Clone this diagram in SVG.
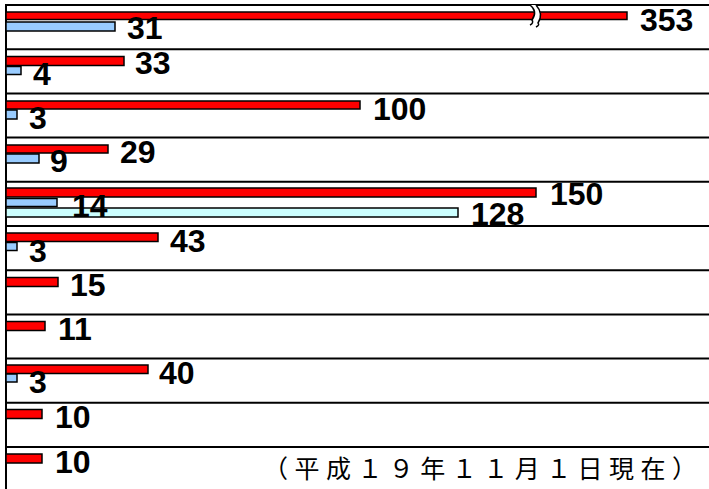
<svg xmlns="http://www.w3.org/2000/svg" width="709" height="489" viewBox="0 0 709 489">
<style>
.grid{stroke:#000;stroke-width:2;fill:none}
.r{fill:#FF0000;stroke:#000;stroke-width:1.5}
.b{fill:#99CCFF;stroke:#000;stroke-width:1.5}
.c{fill:#CCFFFF;stroke:#000;stroke-width:1.5}
.v{font-family:"Liberation Sans",Arial,sans-serif;font-size:32px;font-weight:bold;fill:#000}
.note{font-family:"Noto Sans CJK JP","Noto Sans CJK SC",sans-serif;font-size:25px;fill:#000}
</style>
<rect width="709" height="489" fill="#fff"/>
<g id="gridlines">
<line class="grid" x1="6" y1="5" x2="709" y2="5"/>
<line class="grid" x1="6" y1="49.2" x2="709" y2="49.2"/>
<line class="grid" x1="6" y1="93.4" x2="709" y2="93.4"/>
<line class="grid" x1="6" y1="137.6" x2="709" y2="137.6"/>
<line class="grid" x1="6" y1="181.8" x2="709" y2="181.8"/>
<line class="grid" x1="6" y1="226" x2="709" y2="226"/>
<line class="grid" x1="6" y1="270.2" x2="709" y2="270.2"/>
<line class="grid" x1="6" y1="314.4" x2="709" y2="314.4"/>
<line class="grid" x1="6" y1="358.6" x2="709" y2="358.6"/>
<line class="grid" x1="6" y1="402.8" x2="709" y2="402.8"/>
<line class="grid" x1="6" y1="447" x2="709" y2="447"/>
<line class="grid" x1="6" y1="4" x2="6" y2="489"/>
</g>
<g id="row1">
<rect class="r" x="6" y="12" width="621" height="7.5"/>
<path d="M530,5 Q538,11 532,20 L538,23 Q544,14 536,5 Z" fill="#fff"/>
<path d="M530,5 Q538,11 532,20 Q534,23 530,25 M536,5 Q544,14 538,23 Q540,25 536,27" fill="none" stroke="#000" stroke-width="1.5"/>
<rect class="b" x="6" y="22" width="109" height="9"/>
<text class="v" x="640" y="31">353</text>
<text class="v" x="127" y="39">31</text>
</g>
<g id="row2">
<rect class="r" x="6" y="56.5" width="118" height="9"/>
<rect class="b" x="6" y="66.5" width="15" height="8"/>
<text class="v" x="135" y="74">33</text>
<text class="v" x="33" y="85">4</text>
</g>
<g id="row3">
<rect class="r" x="6" y="101" width="354" height="8"/>
<rect class="b" x="6" y="110" width="11" height="9"/>
<text class="v" x="373" y="120">100</text>
<text class="v" x="29" y="129">3</text>
</g>
<g id="row4">
<rect class="r" x="6" y="145" width="102" height="8"/>
<rect class="b" x="6" y="154" width="33" height="9"/>
<text class="v" x="120" y="163">29</text>
<text class="v" x="50" y="172">9</text>
</g>
<g id="row5">
<rect class="r" x="6" y="188" width="530" height="9"/>
<rect class="b" x="6" y="198.5" width="51" height="8"/>
<rect class="c" x="6" y="208" width="452" height="9"/>
<text class="v" x="550" y="205">150</text>
<text class="v" x="72" y="217">14</text>
<text class="v" x="471" y="225">128</text>
</g>
<g id="row6">
<rect class="r" x="6" y="233" width="152" height="8.5"/>
<rect class="b" x="6" y="242.5" width="11" height="8"/>
<text class="v" x="170" y="252">43</text>
<text class="v" x="29" y="262">3</text>
</g>
<g id="row7">
<rect class="r" x="6" y="277.5" width="52" height="9"/>
<text class="v" x="70" y="296">15</text>
</g>
<g id="row8">
<rect class="r" x="6" y="321.5" width="39" height="9"/>
<text class="v" x="58" y="340">11</text>
</g>
<g id="row9">
<rect class="r" x="6" y="365" width="142" height="8.5"/>
<rect class="b" x="6" y="374" width="11" height="8"/>
<text class="v" x="159" y="384">40</text>
<text class="v" x="29" y="393">3</text>
</g>
<g id="row10">
<rect class="r" x="6" y="409.5" width="36" height="9"/>
<text class="v" x="55" y="428">10</text>
</g>
<g id="row11">
<rect class="r" x="6" y="454" width="36" height="9"/>
<text class="v" x="55" y="473">10</text>
</g>
<text class="note" x="263" y="478" textLength="434" lengthAdjust="spacing">（平成１９年１１月１日現在）</text>
</svg>
